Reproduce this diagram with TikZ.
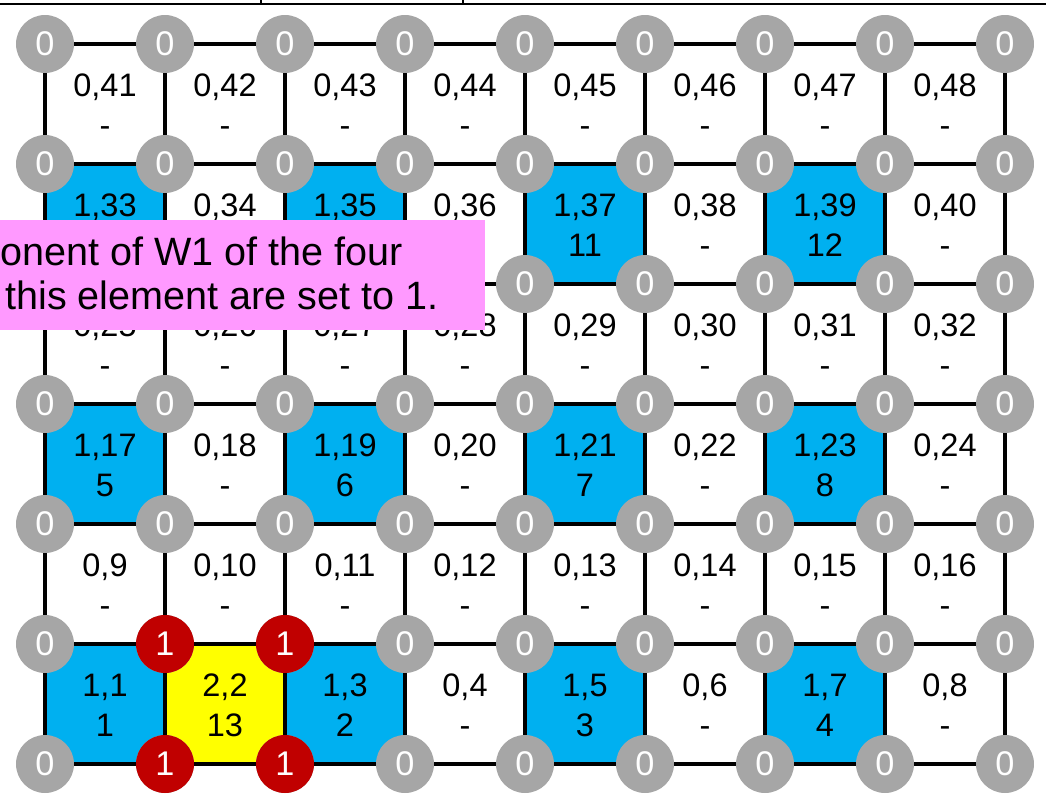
\documentclass[tikz,border=0pt]{standalone}
\usepackage{fontspec}
\setmainfont{Liberation Sans}
\usepackage{xcolor}
\definecolor{cellfill0}{RGB}{255,255,255}
\definecolor{cellfill1}{RGB}{0,176,240}
\definecolor{cellfill2}{RGB}{255,255,0}
\definecolor{nodegray}{RGB}{166,166,166}
\definecolor{nodered}{RGB}{192,0,0}
\definecolor{notepink}{RGB}{255,153,255}
\usetikzlibrary{positioning}

\tikzset{
  gridnode/.style={circle, fill=nodegray, draw=none, minimum size=1.16cm, inner sep=0pt,
    text=white, font=\fontsize{19.5}{21}\selectfont},
  hotnode/.style={gridnode, fill=nodered},
  gridline/.style={line width=2.8pt, black},
  celltext/.style={inner sep=0pt, anchor=base, font=\fontsize{18.5}{21}\selectfont},
  notetext/.style={inner sep=0pt, anchor=base west, font=\fontsize{22.5}{26}\selectfont}
}

\begin{document}
\begin{tikzpicture}[x=0.02cm, y=-0.02cm]
  \clip (0,0) rectangle (1046,795);

  % Cut-off table edge at the top
  \draw[line width=1.7pt] (0,4) -- (1046,4);
  \draw[line width=0.9pt] (261,0) -- (261,4);
  \draw[line width=0.9pt] (463,0) -- (463,4);

  % --- Cells: flag / number (row 0 at the bottom) ---
  \foreach \r/\cells in {
      0/{1/1,2/13,1/2,0/-,1/3,0/-,1/4,0/-},
      1/{0/-,0/-,0/-,0/-,0/-,0/-,0/-,0/-},
      2/{1/5,0/-,1/6,0/-,1/7,0/-,1/8,0/-},
      3/{0/-,0/-,0/-,0/-,0/-,0/-,0/-,0/-},
      4/{1/9,0/-,1/10,0/-,1/11,0/-,1/12,0/-},
      5/{0/-,0/-,0/-,0/-,0/-,0/-,0/-,0/-}} {
    \foreach \f/\s [count=\c from 0] in \cells {
      \pgfmathtruncatemacro{\k}{8*\r+\c+1}
      \fill[cellfill\f] (45+120*\c,764-120*\r) rectangle (165+120*\c,644-120*\r);
      \node[celltext] (lab-\k) at (105+120*\c,696-120*\r) {\f,\k};
      \node[celltext] (num-\k) at (105+120*\c,736-120*\r) {\s};
    }
  }

  % --- Nodes of the mesh ---
  \foreach \i in {0,...,8} {
    \foreach \j in {0,...,6} {
      \node[gridnode] (n-\i-\j) at (45+120*\i,764-120*\j) {0};
    }
  }
  % nodes of element 2,2 set to 1
  \node[hotnode] at (n-1-0) {1};
  \node[hotnode] at (n-2-0) {1};
  \node[hotnode] at (n-1-1) {1};
  \node[hotnode] at (n-2-1) {1};

  % --- Mesh lines ---
  \foreach \i [evaluate=\i as \ii using int(\i+1)] in {0,...,7} {
    \foreach \j in {0,...,6} {
      \draw[gridline] (n-\i-\j) -- (n-\ii-\j);
    }
  }
  \foreach \i in {0,...,8} {
    \foreach \j [evaluate=\j as \jj using int(\j+1)] in {0,...,5} {
      \draw[gridline] (n-\i-\j) -- (n-\i-\jj);
    }
  }

  % --- Note box ---
  \fill[notepink] (-5,220) rectangle (485,330);
  \node[notetext] (note-a) at (0,265) {onent of W1 of the four};
  \node[notetext] (note-b) at (5,309) {this element are set to 1.};
\end{tikzpicture}
\end{document}
